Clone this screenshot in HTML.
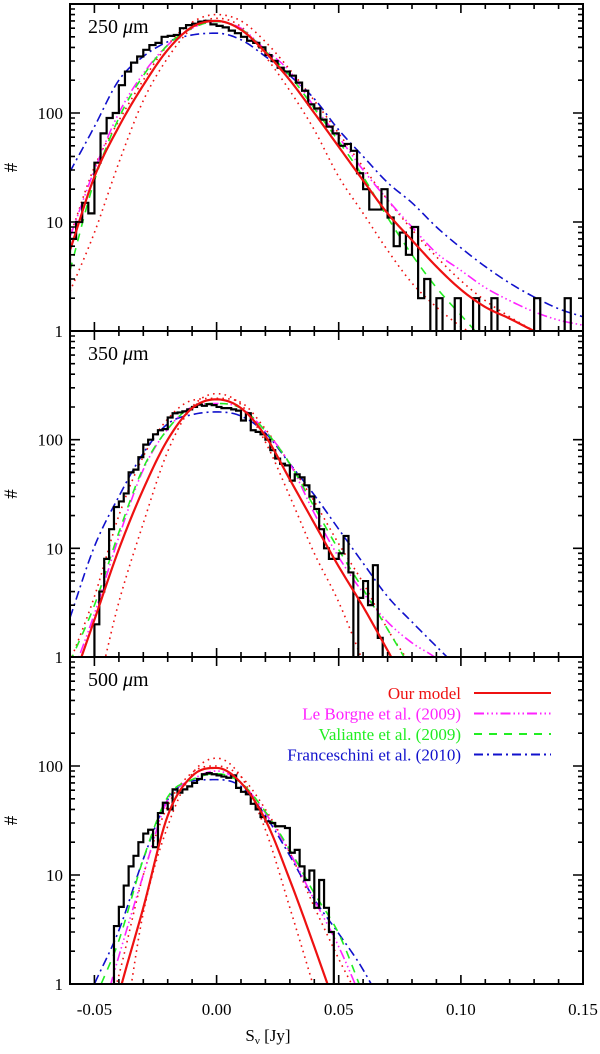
<!DOCTYPE html>
<html><head><meta charset="utf-8"><style>
html,body{margin:0;padding:0;background:#fff;overflow:hidden;width:600px;height:1054px;}
svg{display:block;font-family:"Liberation Serif",serif;}
</style></head><body>
<svg id="chart" width="600" height="1054" viewBox="0 0 600 1054" xmlns="http://www.w3.org/2000/svg">
<g id="root"></g>
</svg>
<script>
// ---- sample points for model curves (Jy) ----
const curveX = [-0.06,-0.05,-0.04,-0.03,-0.02,-0.01,0.0,0.01,0.02,0.03,0.04,0.05,0.06,0.07,0.08,0.09,0.10,0.11,0.12,0.13,0.14,0.15];
const xTicks = [-0.05,0.00,0.05,0.10,0.15];
const xTickLabels = ["-0.05","0.00","0.05","0.10","0.15"];
const yTicks = [1,10,100];
const yTickLabels = ["1","10","100"];
const panelLabels = ["250","350","500"];
// Panel 1 (250um)
const p1Model = [5.5,26,75,180,380,615,700,580,360,200,100,49,24,12,6.8,3.9,2.4,1.66,1.3,1.0,0.8,0.65];
const p1Upper = [7.4,32,85,200,420,680,800,700,450,250,130,65,32,16,8.5,4.8,2.9,1.9,1.35,1.0,0.75,0.55];
const p1Lower = [2.3,8,35,130,320,600,740,620,330,160,70,26,12,5.5,2.75,1.66,1.1,0.8,0.55,0.4,0.3,0.2];
const p1LeBorgne = [7.3,30,100,230,420,600,690,600,380,240,114,60,30,16,9,5.2,3.6,2.5,1.9,1.5,1.26,1.13];
const p1Valiante = [3.6,24,90,220,420,600,690,590,370,220,110,55,26,11,5,2.5,1.4,0.8,0.5,0.3,0.2,0.1];
const p1Franceschini = [29,75,200,330,450,520,540,470,330,220,135,70,40,23,15,9,5.8,3.9,2.75,2.05,1.6,1.35];
const p1HistStart = -0.06, p1HistWidth = 0.0025;
const p1Hist = [7,10,15,12,35,65,90,100,180,240,290,330,380,420,440,500,510,520,600,640,660,690,700,650,630,610,570,540,500,460,440,400,340,300,260,240,
 220,190,160,120,110,87,75,65,50,52,45,28,20,13,13,20,11,6,8,5,9,2,3,0,2,0,0,2,0,0,2,0,0,2,0,0,0,0,0,0,2,0,0,0,0,2,0,0];
// Panel 2 (350um)
const p2Model = [0.5,2.2,9.8,35,100,195,235,195,108,43,17,6.8,2.9,1.15,0.45,0.2,0.1,0.05,0.03,0.02,0.01,0.01];
const p2Upper = [0.9,3.6,20,70,155,230,240,220,125,60,27,11,4.8,1.8,0.8,0.3,0.12,0.05,0.02,0.01,0.005,0.002];
const p2Lower = [0.1,0.4,3.2,17,78,200,265,210,95,30,9,3.2,0.9,0.25,0.06,0.02,0.005,0.001,0.001,0.001,0.001,0.001];
const p2LeBorgne = [0.6,2.5,12.7,53,125,200,215,195,120,60,21,8.3,3.9,2.1,1.35,0.97,0.6,0.4,0.25,0.15,0.1,0.06];
const p2Valiante = [0.9,3,14,55,125,200,215,195,120,60,24,9.7,4.2,1.8,0.75,0.3,0.12,0.05,0.02,0.01,0.005,0.002];
const p2Franceschini = [2.3,10.4,30,75,140,170,180,165,115,60,31,15,7.3,3.6,2.1,1.25,0.75,0.45,0.27,0.16,0.1,0.06];
const p2HistStart = -0.05, p2HistWidth = 0.002;
const p2Hist = [2,4,8,15,24,27,32,50,53,69,90,100,112,122,125,160,175,178,182,190,200,210,205,212,208,200,195,195,190,185,150,175,122,118,112,100,80,67,60,58,42,48,
 45,38,30,23,15,10,8,8,9,13,6,0,3.5,5,3,7,1.5];
// Panel 3 (500um)
const p3Model = [0.02,0.1,0.8,5,35,81,96,70,32,9,2.2,0.5,0.1,0.02,0.005,0.001,0.001,0.001,0.001,0.001,0.001,0.001];
const p3Upper = [0.03,0.2,1.2,10,43,87,100,80,40,16,5.1,1.7,0.6,0.15,0.03,0.005,0.001,0.001,0.001,0.001,0.001,0.001];
const p3Lower = [0.005,0.03,0.2,4.5,28,85,118,80,26,5,0.9,0.15,0.02,0.003,0.001,0.001,0.001,0.001,0.001,0.001,0.001,0.001];
const p3LeBorgne = [0.05,0.3,1.8,10,49,75,90,70,37,16,5.9,2.2,0.65,0.15,0.03,0.005,0.001,0.001,0.001,0.001,0.001,0.001];
const p3Valiante = [0.15,0.7,2.5,14,52,75,85,70,38,17,6.8,2.9,0.8,0.2,0.04,0.005,0.001,0.001,0.001,0.001,0.001,0.001];
const p3Franceschini = [0.3,1.0,3.1,14,49,73,75,65,35,15,6,2.9,1.35,0.5,0.15,0.04,0.01,0.001,0.001,0.001,0.001,0.001];
const p3HistStart = -0.044, p3HistWidth = 0.002;
const p3Hist = [0,3.4,5.1,8,12,15,20,24,26,18,37,46,40,61,57,61,65,70,76,84,86,84,82,80,78,82,63,58,55,45,40,34,31,30,28,28,27,16,17,12,9,11,5,9,5,3,0];

const NS = "http://www.w3.org/2000/svg";
const root = document.getElementById('root');
const X0 = 70, X1 = 583, XMIN = -0.06, XMAX = 0.15;
function xs(v){ return X0 + (v - XMIN) / (XMAX - XMIN) * (X1 - X0); }
const panels = [{top:4,bot:331},{top:331,bot:657},{top:657,bot:984}];
function ys(p, v){ const P = panels[p]; const l = Math.log10(Math.max(v,1e-6)); return P.bot - (P.bot - P.top) * l / 3; }
function mk(tag, attrs, parent){ const e = document.createElementNS(NS, tag); for (const k in attrs) e.setAttribute(k, attrs[k]); (parent||root).appendChild(e); return e; }

const RED = "#ee1111", MAG = "#ff22ff", GRN = "#22ee22", BLU = "#1111cc";
const styles = {
  model:{stroke:RED, w:2.2, dash:null},
  upper:{stroke:RED, w:1.6, dash:"1.6,4.2"},
  lower:{stroke:RED, w:1.6, dash:"1.6,4.2"},
  leborgne:{stroke:MAG, w:1.6, dash:"10,3,1.5,3,1.5,3,1.5,3"},
  valiante:{stroke:GRN, w:1.6, dash:"8,7"},
  franceschini:{stroke:BLU, w:1.6, dash:"9,4,2,4"}
};

// monotone cubic (Fritsch-Carlson) in log space
function curvePath(p, vals){
  const P = panels[p];
  const L = vals.map(v => Math.log10(Math.max(v,1e-6)));
  const n = curveX.length;
  const h = curveX[1]-curveX[0];
  const dl = []; for (let i=0;i<n-1;i++) dl.push((L[i+1]-L[i])/h);
  const m = new Array(n);
  m[0]=dl[0]; m[n-1]=dl[n-2];
  for (let i=1;i<n-1;i++){ m[i] = (dl[i-1]*dl[i] <= 0) ? 0 : (dl[i-1]+dl[i])/2; }
  for (let i=0;i<n-1;i++){
    if (dl[i]===0){ m[i]=0; m[i+1]=0; continue; }
    const a=m[i]/dl[i], b=m[i+1]/dl[i], s=a*a+b*b;
    if (s>9){ const t=3/Math.sqrt(s); m[i]=t*a*dl[i]; m[i+1]=t*b*dl[i]; }
  }
  const lim = P.bot + 20;
  let d = "";
  for (let i = 0; i < n - 1; i++){
    for (let s = 0; s < 12; s++){
      const t = s/12, t2=t*t, t3=t2*t;
      const l = (2*t3-3*t2+1)*L[i] + (t3-2*t2+t)*h*m[i] + (-2*t3+3*t2)*L[i+1] + (t3-t2)*h*m[i+1];
      const x = curveX[i] + h*t;
      const y = P.bot - (P.bot-P.top) * l / 3;
      d += (d ? " L" : "M") + xs(x).toFixed(2) + "," + Math.min(y, lim).toFixed(2);
    }
  }
  d += " L" + xs(curveX[n-1]).toFixed(2) + "," + Math.min(P.bot - (P.bot-P.top)*L[n-1]/3, lim).toFixed(2);
  return d;
}
function histPath(p, start, w, counts){
  const P = panels[p];
  let d = "M" + xs(start).toFixed(2) + "," + P.bot;
  counts.forEach((c, i) => {
    const y = c >= 1 ? ys(p, c) : P.bot + 2;
    d += " L" + xs(start + i*w).toFixed(2) + "," + y.toFixed(2) + " L" + xs(start + (i+1)*w).toFixed(2) + "," + y.toFixed(2);
  });
  d += " L" + xs(start + counts.length*w).toFixed(2) + "," + P.bot;
  return d;
}

const defs = mk('defs', {});
const panelData = [
  {model:p1Model, upper:p1Upper, lower:p1Lower, leborgne:p1LeBorgne, valiante:p1Valiante, franceschini:p1Franceschini, hs:p1HistStart, hw:p1HistWidth, hist:p1Hist},
  {model:p2Model, upper:p2Upper, lower:p2Lower, leborgne:p2LeBorgne, valiante:p2Valiante, franceschini:p2Franceschini, hs:p2HistStart, hw:p2HistWidth, hist:p2Hist},
  {model:p3Model, upper:p3Upper, lower:p3Lower, leborgne:p3LeBorgne, valiante:p3Valiante, franceschini:p3Franceschini, hs:p3HistStart, hw:p3HistWidth, hist:p3Hist}
];

panelData.forEach((D, p) => {
  const P = panels[p];
  const cp = mk('clipPath', {id:'clip'+p}, defs);
  mk('rect', {x:X0, y:P.top, width:X1-X0, height:P.bot-P.top}, cp);
  const g = mk('g', {'clip-path':'url(#clip'+p+')'});
  
  
  ['upper','lower','franceschini','leborgne','valiante'].forEach(k => {
    const s = styles[k];
    const a = {d:curvePath(p, D[k]), fill:'none', stroke:s.stroke, 'stroke-width':s.w};
    if (s.dash) a['stroke-dasharray'] = s.dash;
    const e = mk('path', a, g);
    
    
  });
  const h = mk('path', {d:histPath(p, D.hs, D.hw, D.hist), fill:'none', stroke:'#000', 'stroke-width':2.2, 'stroke-linejoin':'miter'}, g);
  
  
  const m = mk('path', {d:curvePath(p, D.model), fill:'none', stroke:RED, 'stroke-width':2.2}, g);
  
  

  const fr = mk('rect', {x:X0, y:P.top, width:X1-X0, height:P.bot-P.top, fill:'none', stroke:'#000', 'stroke-width':2});
  
  
  let td = "";
  for (let i = -6; i <= 15; i++){
    const v = i/100; const x = xs(v).toFixed(1);
    const len = (i % 5 === 0) ? 9 : 5;
    td += `M${x},${P.bot}v-${len}M${x},${P.top}v${len}`;
  }
  for (let dec = 0; dec < 3; dec++){
    for (let k = 1; k <= 9; k++){
      const v = k * Math.pow(10, dec); if (v >= 1000) continue;
      const y = ys(p, v).toFixed(1); const len = k === 1 ? 10 : 5;
      td += `M${X0},${y}h${len}M${X1},${y}h-${len}`;
    }
  }
  const t = mk('path', {d:td, stroke:'#000', 'stroke-width':1.6, fill:'none'});
  
  
  yTicks.forEach((v, i) => {
    const tl = mk('text', {x:63, y:(ys(p, v) + 6).toFixed(1), 'text-anchor':'end', 'font-size':17});
    tl.textContent = yTickLabels[i];
    
    
  });
  const cy = (P.top + P.bot)/2;
  const yt = mk('text', {x:11, y:cy + 6, 'text-anchor':'middle', 'font-size':19, transform:`rotate(-90 11 ${cy})`});
  yt.textContent = "#";
  
  
  const pl = mk('text', {x:88, y:P.top + 29, 'font-size':20});
  pl.innerHTML = panelLabels[p] + '<tspan font-style="italic" dx="5">μ</tspan>m';
  
  
});

xTicks.forEach((v, i) => {
  const tl = mk('text', {x:xs(v).toFixed(1), y:1015, 'text-anchor':'middle', 'font-size':17});
  tl.textContent = xTickLabels[i];
  
  
});
const xt = mk('text', {x:268, y:1041, 'text-anchor':'middle', 'font-size':17});
xt.innerHTML = 'S<tspan font-size="11" dy="3">ν</tspan><tspan dy="-3"> [Jy]</tspan>';



const legendNames = ["Our model","Le Borgne et al. (2009)","Valiante et al. (2009)","Franceschini et al. (2010)"];
const legendKeys = ["model","leborgne","valiante","franceschini"];
const lg = mk('g', {});


legendNames.forEach((n, i) => {
  const y = 693 + i * 20.5;
  const s = styles[legendKeys[i]];
  const tx = mk('text', {x:461, y:y + 6, 'text-anchor':'end', 'font-size':17, fill:s.stroke}, lg);
  tx.textContent = n;
  
  
  const a = {x1:474, x2:551, y1:y, y2:y, stroke:s.stroke, 'stroke-width':2};
  if (s.dash) a['stroke-dasharray'] = s.dash;
  const ln = mk('line', a, lg);
  
  
});
</script>
</body></html>
